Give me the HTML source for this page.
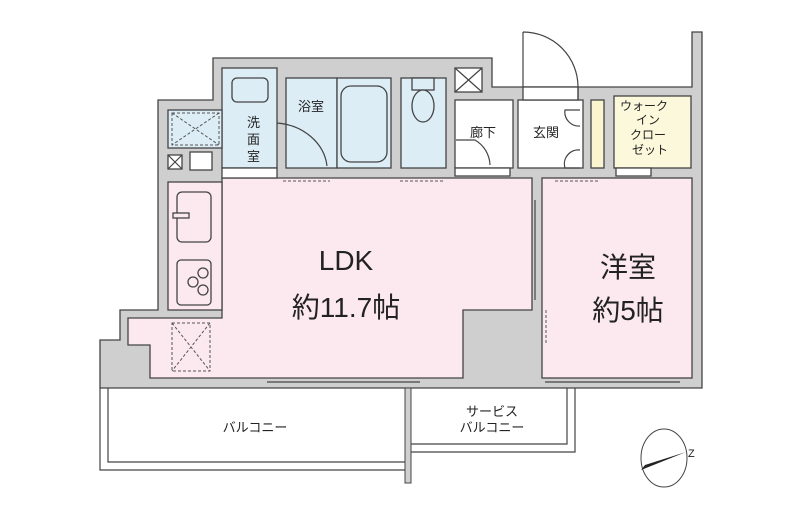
<!DOCTYPE html>
<html><head><meta charset="utf-8"><style>
html,body{margin:0;padding:0;background:#fff;}
svg{display:block;}
text{font-family:"Liberation Sans","Noto Sans CJK JP",sans-serif;fill:#222;}
</style></head><body>
<svg width="800" height="517" viewBox="0 0 800 517" xmlns="http://www.w3.org/2000/svg">
<g stroke="#444" stroke-width="1.3">
<!-- gray wall masses -->
<path d="M213 58 H492 V87 H692 V32 H702 V388 H100 V340 H120 V310 H158 V100 H213 Z" fill="#cfcfcf"/>
<!-- LDK pink -->
<path d="M222 178 H532 V310 H463 V378 H150 V345 H128 V318 H222 Z" fill="#fce9ef"/>
<rect x="168" y="182" width="54" height="128" fill="#fce9ef"/>
<!-- 洋室 -->
<rect x="542" y="178" width="150" height="200" fill="#fce9ef"/>
<!-- wash room -->
<rect x="222" y="68" width="55" height="100" fill="#dcedf6"/>
<rect x="168" y="110" width="54" height="38" fill="#dcedf6"/>
<rect x="222" y="168" width="55" height="10" fill="#fff"/>
<rect x="168" y="155" width="14" height="14" fill="#fff"/>
<rect x="190" y="152" width="22" height="18" fill="#fff"/>
<!-- bath -->
<rect x="286" y="78" width="51" height="90" fill="#dcedf6"/>
<rect x="337" y="78" width="54" height="90" fill="#dcedf6"/>
<rect x="341" y="86" width="46" height="76" rx="10" fill="#dcedf6"/>
<rect x="232" y="78" width="36" height="24" rx="5" fill="#dcedf6"/>
<!-- toilet -->
<rect x="401" y="78" width="45" height="90" fill="#dcedf6"/>
<rect x="412" y="78" width="22" height="12" fill="#dcedf6"/>
<ellipse cx="423" cy="106" rx="11" ry="16" fill="#dcedf6"/>
<!-- hole -->
<rect x="455" y="68" width="27" height="24" fill="#fff"/>
<!-- hall, genkan -->
<rect x="455" y="100" width="58" height="68" fill="#fff"/>
<rect x="518" y="100" width="65" height="68" fill="#fff"/>
<rect x="591" y="100" width="13" height="68" fill="#fbf5cf"/>
<rect x="614" y="96" width="77" height="72" fill="#fbf8dc"/>
<rect x="455" y="168" width="55" height="8" fill="#fff"/>
<rect x="616" y="168" width="35" height="8" fill="#fff"/>
<!-- door opening top -->
<rect x="523" y="87" width="55" height="13" fill="#fff"/>
<!-- kitchen -->
<rect x="177" y="192" width="34" height="50" rx="5" fill="#fce9ef"/>
<rect x="173" y="213" width="16" height="5" fill="#fce9ef"/>
<rect x="177" y="260" width="34" height="45" rx="4" fill="#fce9ef"/>
<circle cx="203" cy="273" r="5" fill="none"/><circle cx="193" cy="282" r="5" fill="none"/><circle cx="203" cy="290" r="5" fill="none"/>
</g>
<g fill="none" stroke="#444" stroke-width="1.2">
<!-- doors -->
<path d="M523 32 V87 M523 32 A55 55 0 0 1 578 87 V100"/>
<path d="M277 123 A55 48 0 0 1 327 166"/>
<path d="M456 140 H475 A30 30 0 0 1 490 165"/>
<path d="M580 110 H565 A14 14 0 0 0 580 126 M580 168 H565 A14 14 0 0 1 580 150"/>
<!-- X marks -->
<path d="M455 68 L482 92 M482 68 L455 92"/>
<path d="M168 155 L182 169 M182 155 L168 169"/>
<!-- balconies -->
<path d="M100 388 V470 H405 M108 388 V462 H405"/>
<path d="M410 388 V452 H575 V388 M410 388 V444 H567 V388"/>
<path d="M267 382 H420 M545 382 H680 M535 200 V300"/>
</g>
<rect x="405" y="388" width="6" height="95" fill="#cfcfcf" stroke="#444"/>
<g fill="none" stroke="#555" stroke-width="1" stroke-dasharray="3,2">
<rect x="172" y="113" width="47" height="32"/><path d="M172 113 L219 145 M219 113 L172 145"/>
<rect x="172" y="323" width="38" height="48"/><path d="M172 323 L210 371 M210 323 L172 371"/>
<path d="M283 181 H330 M400 181 H445 M555 181 H600 M546 310 V345"/>
</g>
<!-- compass -->
<ellipse cx="664" cy="458" rx="23" ry="29" fill="none" stroke="#444"/>
<path d="M641 470 L686 452 L645 465 Z" fill="#222"/>
<text x="688" y="457" font-size="11">Z</text>
<!-- labels -->
<text x="298" y="111" font-size="13">浴室</text>
<text x="247" y="127" font-size="13">洗</text><text x="247" y="144" font-size="13">面</text><text x="247" y="161" font-size="13">室</text>
<text x="470" y="137" font-size="13">廊下</text>
<text x="533" y="137" font-size="13">玄関</text>
<text x="620" y="110" font-size="12">ウォーク</text>
<text x="636" y="124" font-size="12">イン</text>
<text x="630" y="139" font-size="12">クロー</text>
<text x="632" y="154" font-size="12">ゼット</text>
<text x="346" y="270" font-size="28" text-anchor="middle">LDK</text>
<text x="346" y="317" font-size="28" text-anchor="middle">約11.7帖</text>
<text x="628" y="277" font-size="28" text-anchor="middle">洋室</text>
<text x="628" y="320" font-size="28" text-anchor="middle">約5帖</text>
<text x="255" y="432" font-size="13" text-anchor="middle">バルコニー</text>
<text x="492" y="416" font-size="13" text-anchor="middle">サービス</text>
<text x="492" y="432" font-size="13" text-anchor="middle">バルコニー</text>
</svg>
</body></html>
